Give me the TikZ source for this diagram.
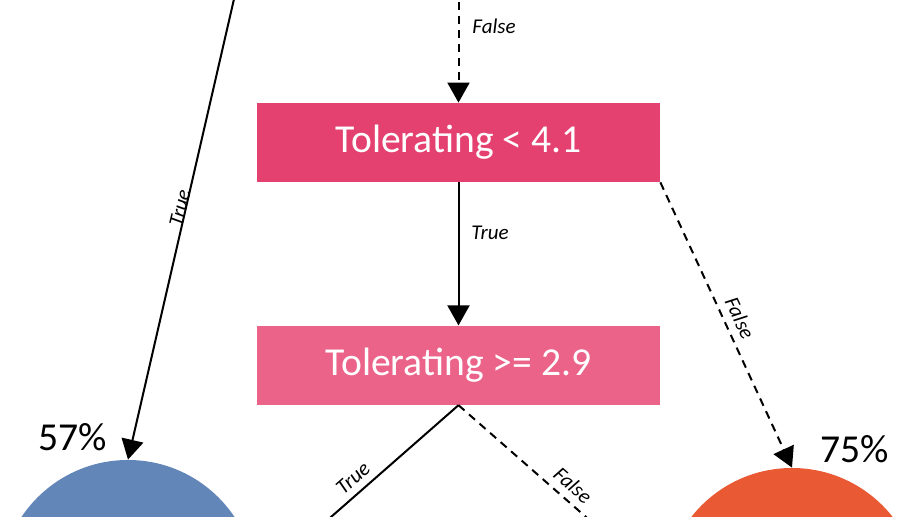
\documentclass[tikz,border=0pt]{standalone}
\usepackage{fontspec}
\setmainfont{Carlito}
\usetikzlibrary{positioning}
\usetikzlibrary{arrows.meta}

\definecolor{splitA}{HTML}{E44170}
\definecolor{splitB}{HTML}{EC638A}
\definecolor{leafblue}{HTML}{6386B9}
\definecolor{leaforange}{HTML}{E95A34}

\begin{document}
\begin{tikzpicture}[x=0.5pt,y=-0.5pt,
  split/.style={minimum width=201.5pt,minimum height=39.5pt,inner sep=0pt,
    text=white,font=\fontsize{19.8}{22}\selectfont},
  leaf/.style={circle,minimum size=128pt,inner sep=0pt},
  pct/.style={inner sep=0pt,font=\fontsize{19.8}{22}\selectfont},
  branch/.style={inner sep=0pt,font=\fontsize{10.5}{12}\selectfont\itshape},
  yes/.style={line width=1pt,-{Triangle[length=10pt,width=11pt]}},
  no/.style={yes,dash pattern=on 4pt off 3pt}]
\useasboundingbox (0,0) rectangle (918,517);
\clip (0,0) rectangle (918,517);

% splits
\node[split,fill=splitA] (tol41) at (458.5,142.5) {Tolerating < 4.1};
\node[split,fill=splitB,below=71.5pt of tol41] (tol29) {Tolerating >= 2.9};

% leaves
\node[leaf,fill=leafblue] (leaf57) at (128,588) {};
\node[leaf,fill=leaforange] (leaf75) at (792,596) {};
\node[pct] at (73,437) {57\%};
\node[pct] at (855,449) {75\%};

% ends outside the frame
\coordinate (up) at (458.5,-40);
\coordinate (upleft) at (243,-40);
\coordinate (downleft) at (282,560);
\coordinate (downright) at (635,560);

\draw[no] (up) -- (tol41.north);
\node[branch] at (494,26) {False};
\draw[yes] (upleft) -- (leaf57.north);
\node[branch,rotate=76.8] at (180,208) {True};

\draw[yes] (tol41) -- (tol29);
\node[branch] at (490,233) {True};
\draw[no] (tol41.south east) -- (leaf75.north);
\node[branch,rotate=-65] at (740,318) {False};

\draw[yes] (tol29.south) -- (downleft);
\node[branch,rotate=41.4] at (353,478) {True};
\draw[no] (tol29.south) -- (downright);
\node[branch,rotate=-41.4] at (573,485) {False};

\end{tikzpicture}
\end{document}
